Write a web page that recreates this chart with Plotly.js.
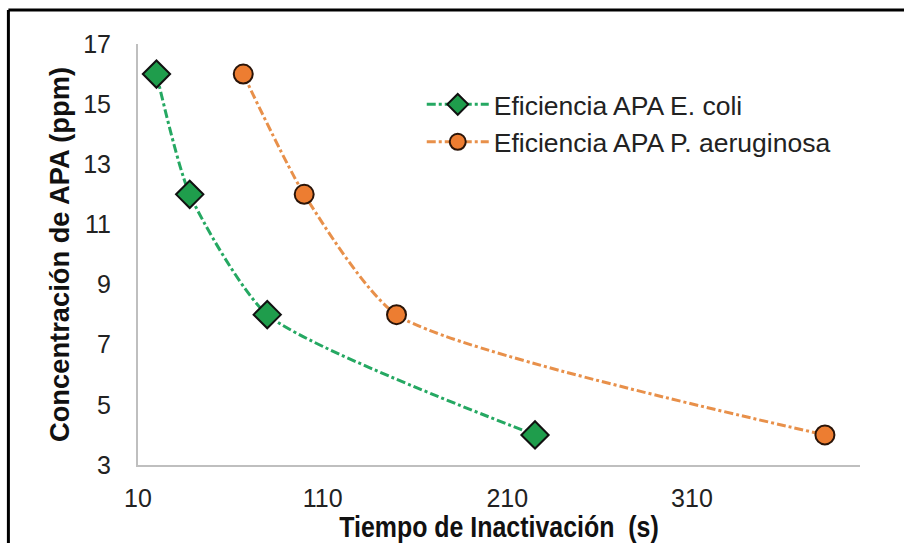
<!DOCTYPE html>
<html>
<head>
<meta charset="utf-8">
<script src="https://cdn.plot.ly/plotly-3.0.1.min.js"></script>
<style>
html,body{margin:0;padding:0;background:#fff;}
#chart{width:904px;height:543px;}
</style>
</head>
<body>
<div id="chart"></div>
<script>
// Data
const seriesNames = ["Eficiencia APA E. coli", "Eficiencia APA P. aeruginosa"];
const timeEcoli = [20, 38, 80, 225];
const concEcoli = [16, 12, 8, 4];
const timePaeruginosa = [67, 100, 150, 382];
const concPaeruginosa = [16, 12, 8, 4];
const xTickVals = [10, 110, 210, 310];
const yTickVals = [3, 5, 7, 9, 11, 13, 15, 17];

const FONT = "Liberation Sans, Arial, sans-serif";

const traces = [
  {
    x: timeEcoli, y: concEcoli, name: seriesNames[0],
    type: "scatter", mode: "lines+markers",
    line: {color: "#25a862", width: 3, dash: "dashdot", shape: "spline", smoothing: 0.6},
    marker: {symbol: "diamond", size: 21, color: "#1f9d4c", line: {color: "#111", width: 2}}
  },
  {
    x: timePaeruginosa, y: concPaeruginosa, name: seriesNames[1],
    type: "scatter", mode: "lines+markers",
    line: {color: "#e8904a", width: 3, dash: "dashdot", shape: "spline", smoothing: 0.6},
    marker: {symbol: "circle", size: 19, color: "#ed7d31", line: {color: "#2a1408", width: 2}}
  }
];

const layout = {
  width: 904, height: 543,
  margin: {l: 138, r: 44, t: 44, b: 78},
  paper_bgcolor: "#fff", plot_bgcolor: "#fff",
  font: {family: FONT, color: "#222", size: 25},
  showlegend: true,
  legend: {
    x: 0.393, y: 0.913, xanchor: "left", yanchor: "top",
    font: {family: FONT, size: 26.5, color: "#222"},
    bgcolor: "rgba(255,255,255,0)", itemwidth: 62
  },
  xaxis: {
    range: [10, 401], tickvals: xTickVals, ticktext: xTickVals.map(String),
    showgrid: false, zeroline: false, showline: true, linecolor: "#bfbfbf", linewidth: 2,
    ticks: "", ticklabelstandoff: 10,
    tickfont: {family: FONT, size: 25, color: "#222"},
    title: {text: "Tiempo de Inactivación  (s)", standoff: 4,
      font: {family: FONT, size: 29, color: "#111", weight: "bold"}}
  },
  yaxis: {
    range: [3, 17], tickvals: yTickVals, ticktext: yTickVals.map(String),
    showgrid: false, zeroline: false, showline: true, linecolor: "#bfbfbf", linewidth: 2,
    ticks: "", ticklabelstandoff: 20,
    tickfont: {family: FONT, size: 25, color: "#222"},
    title: {text: "Concentración de APA (ppm)", standoff: 6,
      font: {family: FONT, size: 27.3, color: "#111", weight: "bold"}}
  },
  shapes: [
    {type: "line", xref: "paper", yref: "paper", x0: -0.1795, x1: 1.2, y0: 1.081, y1: 1.081,
      line: {color: "#000", width: 3}},
    {type: "line", xref: "paper", yref: "paper", x0: -0.1795, x1: -0.1795, y0: 1.081, y1: -0.3,
      line: {color: "#000", width: 3}}
  ]
};

Plotly.newPlot("chart", traces, layout, {displayModeBar: false, staticPlot: true}).then(function (gd) {
  // the reference x title is set in a condensed bold face: narrow it horizontally
  const t = gd.querySelector(".g-xtitle text");
  if (t) {
    const b = t.getBBox();
    const cx = b.x + b.width / 2;
    t.setAttribute("transform", "translate(" + cx + ",0) scale(0.86,1) translate(" + (-cx) + ",0)");
  }
});
</script>
</body>
</html>
